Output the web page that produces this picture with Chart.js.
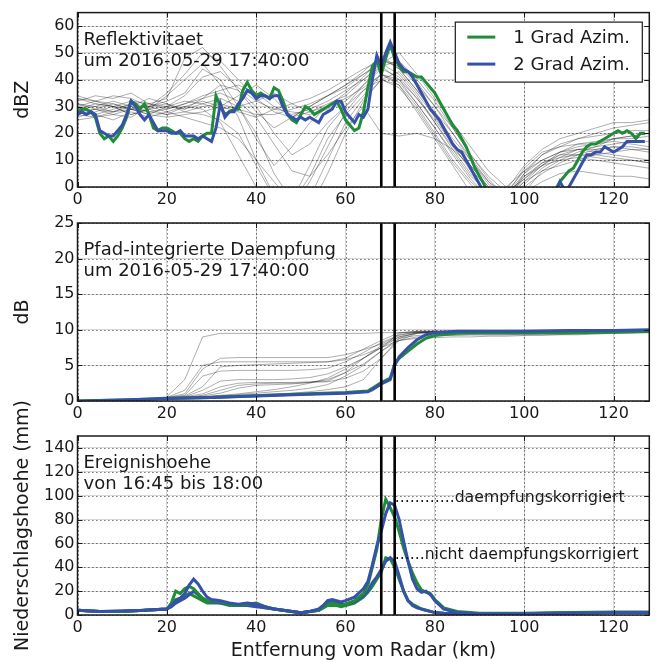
<!DOCTYPE html>
<html>
<head>
<meta charset="utf-8">
<script src="https://cdn.jsdelivr.net/npm/chart.js@4.4.1/dist/chart.umd.min.js"></script>
<style>
  body { margin: 0; background: #fff; }
  #wrap { position: relative; width: 660px; height: 662px; }
  canvas { position: absolute; left: 0; }
</style>
</head>
<body>
<div id="wrap">
  <canvas id="refl" width="660" height="210" style="top:0"></canvas>
  <canvas id="pia" width="660" height="215" style="top:210px"></canvas>
  <canvas id="rain" width="660" height="267" style="top:395px"></canvas>
</div>
<script>
// Entfernung (km) - grobes Raster fuer die grauen Nachbarstrahlen
const km4 = [0,4,8,12,16,20,24,28,32,36,40,44,48,52,56,60,64,68,72,76,80,84,88,92,96,100,104,108,112,116,120,124,128];
// feines Raster (1 km) fuer die beiden Azimute
const km1 = Array.from({length: 128}, (_, i) => i);
// Markierung der Region
const markKm = [68, 71];

// Achsenbeschriftung
const kmTicks = [0, 20, 40, 60, 80, 100, 120];
const dbzTicks = [0, 10, 20, 30, 40, 50, 60];
const dbTicks = [0, 5, 10, 15, 20, 25];
const mmTicks = [0, 20, 40, 60, 80, 100, 120, 140];

// Reflektivitaet (dBZ)
const reflGrad1 = [28,29,29,28,26,20,18,19,17,19, 22,26,32,31,29,31,27,22,21,22,
  22,21,20,20,18,17,18,17,19,20, 20,34,30,27,28,29,29,36,39,36,
  34,35,34,33,37,36,32,27,25,24, 27,30,29,27,28,29,30,31,32,29,
  25,23,21,22,28,37,45,47,42,48, 53,48,45,43,43,42,41,41,39,37,
  35,32,29,26,23,21,18,15,11,7, 4,1,-3,-8,-12,-15,-15,-15,-15,-15,
  -15,-15,-15,-15,-15,-12,-6,-1,2,4, 6,7,10,13,15,16,16,17,18,19,
  20,21,20,21,20,18,20,20];
const reflGrad2 = [27,28,27,28,27,21,20,19,19,21, 23,27,32,30,27,25,27,24,21,21,
  21,20,20,21,19,19,19,18,19,18, 17,22,31,26,28,28,31,33,36,35,
  33,34,34,33,34,34,30,27,26,25, 26,25,26,25,24,27,28,29,32,32,
  28,26,24,27,26,29,40,49,45,50, 54,50,46,44,43,41,38,35,32,29,
  27,25,22,19,16,14,13,10,7,4, 1,-3,-8,-12,-15,-15,-15,-15,-15,-15,
  -15,-15,-15,-15,-15,-12,-6,-2,2,-1, 0,3,6,9,12,12,13,13,15,14,
  13,14,15,17,17,17,17,17];
const reflOthers = [
  [31,30,28,31,29,27,30,32,30,28,26,29,31,33,36,40,44,47,45,38,30,22,12,3,-4,2,8,12,14,15,16,17,17],
  [33,32,30,29,31,33,48,52,45,36,28,22,26,30,34,38,42,46,42,34,24,14,5,-3,-5,-2,6,10,13,15,18,19,20],
  [28,29,27,26,30,32,35,44,40,30,18,8,15,24,30,35,41,48,44,36,27,18,10,2,-5,4,9,12,12,11,10,10,9],
  [30,27,25,28,26,28,30,29,24,12,0,-8,-5,8,22,30,38,45,47,40,32,22,12,4,-2,3,8,13,16,17,18,18,19],
  [26,28,30,27,29,34,40,46,38,26,10,-3,-8,2,15,28,36,42,40,33,25,16,8,0,-6,0,5,9,12,14,15,15,14],
  [32,34,33,35,31,30,29,31,33,30,20,5,-5,-4,10,24,33,40,38,30,20,10,2,-4,-5,5,12,15,18,20,22,23,24],
  [29,30,32,30,28,29,31,34,36,38,35,30,27,29,32,36,40,46,50,42,33,24,15,6,0,6,12,16,18,19,20,21,21],
  [31,29,28,30,33,31,28,27,25,20,8,-4,-6,4,18,27,34,42,39,31,22,12,3,-4,-3,4,8,10,11,10,9,8,7],
  [27,26,28,29,27,26,27,28,30,34,38,33,26,30,34,38,43,49,44,36,28,20,11,2,-3,7,13,15,16,16,17,16,15],
  [30,32,34,33,30,35,42,50,47,40,33,28,26,28,31,34,40,45,40,31,22,13,4,-2,-6,1,7,11,14,13,12,11,10],
  [28,27,29,31,30,28,26,24,22,18,10,2,-6,-8,5,20,32,40,43,35,26,16,6,-3,-3,5,10,13,15,16,18,19,20],
  [33,31,30,27,29,30,32,31,29,30,32,35,31,28,30,33,37,42,38,28,18,8,-2,-6,-1,8,14,18,20,22,24,24,25],
  [25,26,27,29,28,27,28,30,31,29,27,27,29,31,34,37,42,47,46,39,30,20,10,1,-4,3,9,11,12,12,11,10,9],
  [34,32,31,29,30,31,29,33,38,36,30,20,12,16,24,30,36,40,37,29,19,9,1,-5,-2,6,10,13,14,14,15,14,13],
  [29,31,30,32,31,29,31,33,35,32,26,16,6,4,12,22,30,20,19,20,18,14,8,0,-6,-2,2,5,6,5,4,4,3],
  [27,29,31,29,27,30,34,41,43,37,32,29,28,27,29,32,38,44,41,33,24,15,7,-1,-5,2,6,8,10,12,13,14,14]
];

// Pfad-integrierte Daempfung (dB)
const piaKm = [0,10,20,30,40,50,60,65,66,68,70,71,72,74,76,78,80,85,90,100,110,120,128];
const piaGrad1 = [0,0.15,0.35,0.5,0.75,1.0,1.2,1.4,1.8,2.6,3.2,5.2,6.0,7.0,8.0,8.8,9.2,9.5,9.6,9.6,9.6,9.7,9.8];
const piaGrad2 = [0,0.15,0.35,0.5,0.7,0.9,1.1,1.3,1.6,2.4,3.0,5.0,6.2,7.5,8.6,9.3,9.6,9.8,9.8,9.8,9.9,9.9,10];
const piaOthers = [
  [0,0.05,0.1,0.2,0.3,0.6,3,9,9.5,9.5,9.5,9.5,9.5,9.5,9.5,9.5,9.5,9.6,9.6,9.6,9.6,9.6,9.6,9.6,9.6,9.6,9.6,9.6,9.6,9.7,9.7,9.7,9.7],
  [0,0.05,0.1,0.2,0.3,0.5,1.5,5,5.5,5.5,5.5,5.5,5.5,5.5,5.5,5.8,6.5,7.5,9.5,9.8,9.8,9.8,9.8,9.8,9.8,9.8,9.8,9.8,9.8,9.8,9.9,9.9,9.9],
  [0,0.05,0.1,0.2,0.3,0.5,1,4.5,6,6.1,6.1,6.1,6.1,6.1,6.1,6.5,7.2,8,9.2,9.7,9.8,9.8,9.8,9.8,9.8,9.8,9.8,9.8,9.8,9.8,9.8,9.9,9.9],
  [0,0.05,0.1,0.2,0.3,0.5,0.8,3.5,4.2,4.3,4.3,4.3,4.3,4.4,4.6,5.5,6.8,8.2,9.3,9.7,9.7,9.7,9.7,9.7,9.7,9.7,9.7,9.7,9.7,9.7,9.8,9.8,9.8],
  [0,0.05,0.1,0.2,0.3,0.4,0.6,1.5,2.8,3,3,3,3.1,3.3,3.8,4.8,6,7.5,9,9.6,9.7,9.7,9.7,9.7,9.7,9.7,9.7,9.7,9.7,9.7,9.8,9.8,9.8],
  [0,0.05,0.1,0.2,0.3,0.4,0.5,0.8,1.5,2.2,2.4,2.5,2.5,2.6,2.7,3.2,4.2,6,8.5,9.5,9.7,9.7,9.7,9.7,9.7,9.7,9.7,9.7,9.7,9.7,9.7,9.8,9.8],
  [0,0.05,0.1,0.2,0.3,0.4,0.5,0.7,1.1,1.8,2.2,2.3,2.4,2.6,3,4,5.2,7,8.8,9.2,9.3,9.3,9.3,9.3,9.3,9.4,9.4,9.4,9.5,9.5,9.6,9.6,9.7],
  [0,0.05,0.1,0.2,0.3,0.4,0.5,0.6,0.8,1,1.3,1.6,2,2.5,3.2,4.5,6,7.8,9,9.5,9.6,9.6,9.6,9.6,9.6,9.6,9.6,9.6,9.6,9.6,9.7,9.7,9.7],
  [0,0.05,0.1,0.2,0.3,0.4,0.5,0.6,0.7,0.9,1.1,1.3,1.5,1.8,2.3,3.5,5,7,8.5,8.8,8.9,9,9,9.1,9.1,9.2,9.2,9.3,9.3,9.4,9.5,9.5,9.6],
  [0,0.05,0.1,0.2,0.3,0.4,0.5,0.6,0.7,0.8,0.9,1,1.1,1.3,1.6,2,3,6,8.8,9.6,9.7,9.7,9.7,9.7,9.7,9.7,9.7,9.7,9.7,9.7,9.8,9.8,9.8],
  [0,0.05,0.1,0.2,0.3,0.4,0.6,1,2,2.5,2.6,2.6,2.6,2.7,2.8,4,6,7.5,8.5,9,9.2,9.2,9.3,9.3,9.3,9.3,9.4,9.4,9.4,9.5,9.5,9.6,9.6],
  [0,0.05,0.1,0.2,0.3,0.45,0.7,2,4.8,5,5.1,5.2,5.3,5.4,5.5,6,7.3,8.5,9.6,9.8,9.8,9.8,9.8,9.8,9.8,9.8,9.8,9.8,9.8,9.8,9.9,9.9,9.9]
];

// Ereignishoehe (mm)
const rainKm = [0,5,10,15,20,21,22,23,24,25,26,27,28,29,30,32,34,36,38,40,42,44,46,48,50,52,54,55,56,57,
  58,59,60,62,64,65,66,67,68,69,70,71,72,73,74,75,76,77,78,79,80,82,85,90,100,110,120,128];
const rainCorr1 = [4,3,3,4,5, 10,20,18,22,24, 22,18,14,12,12, 11,9,8,9,10, 7,5,4,3,2, 3,4,6,9,10,
  9,8,9,12,18, 25,40,55,80,97, 90,82,70,56,45, 35,27,21,19,18, 13,6,3,1.5,1.5, 2,2.5,2.5];
const rainCorr2 = [4,3,3.5,4,5, 8,12,14,18,25, 30,26,20,15,13, 12,10,9,10,9, 7,5,4,3,2, 3,5,8,12,13,
  12,11,12,15,22, 28,42,58,70,85, 94,92,80,62,45, 30,22,19,20,17, 12,5,2,1,1, 1.5,2,2];
const rainRaw1 = [4,3,3,4,5, 8,13,14,16,18, 16,14,12,10,10, 10,8,8,8,8, 6,5,4,3,2, 3,4,6,8,8,
  8,7,8,10,15, 19,24,30,36,48, 47,40,30,20,12, 9,7,5,4,3, 2,1.5,1,1,1, 2,2,2];
const rainRaw2 = [4,3,3,4,5, 7,10,12,14,17, 20,17,14,12,11, 10,9,8,8,7, 6,5,4,3,2, 3,4,7,10,11,
  10,9,9,11,16, 20,27,32,38,45, 48,45,33,20,12, 8,6,5,4,3, 2,1.5,1,1,1, 1.5,2,2];

const legendLabels = ['1 Grad Azim.', '2 Grad Azim.'];
const GREEN = '#1f8c37';
const BLUE = '#3651aa';
const GREY = 'rgba(0,0,0,0.32)';
const INK = '#1a1a1a';

Chart.defaults.font.family = '"DejaVu Sans", sans-serif';
Chart.defaults.color = INK;

function line(xs, ys, color, width, order) {
  return {
    data: xs.map((x, i) => ({x: x, y: ys[i]})),
    borderColor: color, borderWidth: width,
    pointRadius: 0, tension: 0, fill: false, order: order
  };
}

function marks(yMin, yMax) {
  return markKm.map(k => line([k, k], [yMin, yMax], '#000', 2.6, 0));
}

// punktiertes Gitter: viele kurze Striche in einem Pfad
function grid(chart) {
  const ctx = chart.ctx, a = chart.chartArea;
  const xs = chart.scales.x, ys = chart.scales.y;
  ctx.save();
  ctx.strokeStyle = 'rgba(0,0,0,0.5)';
  ctx.lineWidth = 1;
  ctx.beginPath();
  xs.ticks.forEach(t => {
    const p = Math.round(xs.getPixelForValue(t.value)) + 0.5;
    for (let y = Math.round(a.top) + 2; y < a.bottom - 1; y += 4) {
      ctx.moveTo(p, y); ctx.lineTo(p, y + 1.6);
    }
  });
  ys.ticks.forEach(t => {
    const p = Math.round(ys.getPixelForValue(t.value)) + 0.5;
    for (let x = Math.round(a.left) + 2; x < a.right - 1; x += 4) {
      ctx.moveTo(x, p); ctx.lineTo(x + 1.6, p);
    }
  });
  ctx.stroke();
  ctx.restore();
}

// Gitter, Rahmen, Ticks nach innen, Texte und Legende
const notes = {
  id: 'notes',
  beforeDatasetsDraw(chart, args, o) {
    grid(chart);
    const ctx = chart.ctx, a = chart.chartArea;
    ctx.save();
    ctx.fillStyle = INK;
    ctx.font = '18px "DejaVu Sans"';
    ctx.textBaseline = 'alphabetic';
    o.title.forEach((t, i) => ctx.fillText(t, a.left + 6, a.top + 32 + i * 21));
    ctx.restore();
  },
  afterDraw(chart, args, o) {
    const ctx = chart.ctx, a = chart.chartArea;
    const xs = chart.scales.x, ys = chart.scales.y;
    ctx.save();
    ctx.strokeStyle = INK;
    ctx.lineWidth = 1;
    ctx.beginPath();
    xs.ticks.forEach(t => {
      const p = Math.round(xs.getPixelForValue(t.value)) + 0.5;
      ctx.moveTo(p, a.bottom); ctx.lineTo(p, a.bottom - 5);
      ctx.moveTo(p, a.top); ctx.lineTo(p, a.top + 5);
    });
    ys.ticks.forEach(t => {
      const p = Math.round(ys.getPixelForValue(t.value)) + 0.5;
      ctx.moveTo(a.left, p); ctx.lineTo(a.left + 5, p);
      ctx.moveTo(a.right, p); ctx.lineTo(a.right - 5, p);
    });
    ctx.stroke();
    ctx.lineWidth = 1.5;
    ctx.strokeRect(a.left, a.top, a.right - a.left, a.bottom - a.top);

    if (o.legend === true) {
      const bx = a.right - 194, by = a.top + 9.5;
      ctx.fillStyle = '#fff';
      ctx.fillRect(bx, by, 187, 60);
      ctx.lineWidth = 1.2;
      ctx.strokeRect(bx, by, 187, 60);
      ctx.font = '18px "DejaVu Sans"';
      ctx.textBaseline = 'middle';
      [GREEN, BLUE].forEach((c, i) => {
        const yy = by + 15 + i * 27;
        ctx.strokeStyle = c; ctx.lineWidth = 3;
        ctx.beginPath(); ctx.moveTo(bx + 12, yy); ctx.lineTo(bx + 40, yy); ctx.stroke();
        ctx.fillStyle = INK;
        ctx.fillText(legendLabels[i], bx + 58, yy + 1);
      });
    }
    if (o.ann && o.ann.length) {
      ctx.font = '16px "DejaVu Sans"';
      ctx.textBaseline = 'middle';
      ctx.fillStyle = INK;
      o.ann.forEach(n => ctx.fillText(n.text, xs.getPixelForValue(n.x), ys.getPixelForValue(n.y), n.w));
    }
    ctx.restore();
  }
};

// schwaches durchgezogenes Gitter der Bibliothek als Grundlage
const libGrid = {color: 'rgba(0,0,0,0.16)', lineWidth: 1, drawTicks: false};

function panel(id, cfg) {
  const xTitle = cfg.xTitle
    ? {display: true, text: cfg.xTitle, font: {size: 19}, color: INK, padding: {top: 0, bottom: 0}}
    : {display: false};
  return new Chart(document.getElementById(id), {
    type: 'line',
    data: {datasets: cfg.datasets},
    options: {
      responsive: false, animation: false, devicePixelRatio: 1,
      layout: {padding: {left: 0, right: 10.7, top: cfg.top, bottom: 0}},
      plugins: {legend: {display: false}, tooltip: {enabled: false},
        notes: {title: cfg.title, legend: !!cfg.legend, ann: cfg.ann || []}},
      scales: {
        x: {
          type: 'linear', min: 0, max: 128,
          afterBuildTicks: s => { s.ticks = kmTicks.map(v => ({value: v})); },
          afterFit: s => { s.height = cfg.xh; },
          ticks: {font: {size: 16}, color: INK, padding: 3, maxRotation: 0, autoSkip: false},
          grid: libGrid,
          border: {display: false},
          title: xTitle
        },
        y: {
          min: 0, max: cfg.yMax,
          afterBuildTicks: s => { s.ticks = cfg.yTicks.map(v => ({value: v})); },
          afterFit: s => { s.width = 77.5; },
          ticks: {font: {size: 16}, color: INK, padding: 3, autoSkip: false},
          grid: libGrid,
          border: {display: false},
          title: {display: true, text: cfg.yTitle, font: {size: 19}, color: INK, padding: {top: 12, bottom: 0}}
        }
      }
    },
    plugins: [notes]
  });
}

// Fenster: refl 0..210, pia 210..425, rain 395..662
panel('refl', {
  top: 10.5, xh: 23, yMax: 65, yTicks: dbzTicks, yTitle: 'dBZ',
  title: ['Reflektivitaet', 'um 2016-05-29 17:40:00'], legend: true,
  datasets: reflOthers.map(s => line(km4, s, GREY, 1, 3))
    .concat([line(km1, reflGrad1, GREEN, 3, 2), line(km1, reflGrad2, BLUE, 3, 1)])
    .concat(marks(0, 65))
});

panel('pia', {
  top: 13, xh: 24, yMax: 25, yTicks: dbTicks, yTitle: 'dB',
  title: ['Pfad-integrierte Daempfung', 'um 2016-05-29 17:40:00'],
  datasets: piaOthers.map(s => line(km4, s, GREY, 1, 3))
    .concat([line(piaKm, piaGrad1, GREEN, 3, 2), line(piaKm, piaGrad2, BLUE, 3, 1)])
    .concat(marks(0, 25))
});

panel('rain', {
  top: 41, xh: 47, yMax: 150, yTicks: mmTicks,
  yTitle: 'Niederschlagshoehe (mm)', xTitle: 'Entfernung vom Radar (km)',
  title: ['Ereignishoehe', 'von 16:45 bis 18:00'],
  ann: [
    {x: 71, y: 98, text: '............daempfungskorrigiert', w: 230},
    {x: 71, y: 50, text: '......nicht daempfungskorrigiert', w: 244}
  ],
  datasets: [
    line(rainKm, rainRaw1, GREEN, 3, 4), line(rainKm, rainRaw2, BLUE, 3, 3),
    line(rainKm, rainCorr1, GREEN, 3, 2), line(rainKm, rainCorr2, BLUE, 3, 1)
  ].concat(marks(0, 150))
});
</script>
</body>
</html>
